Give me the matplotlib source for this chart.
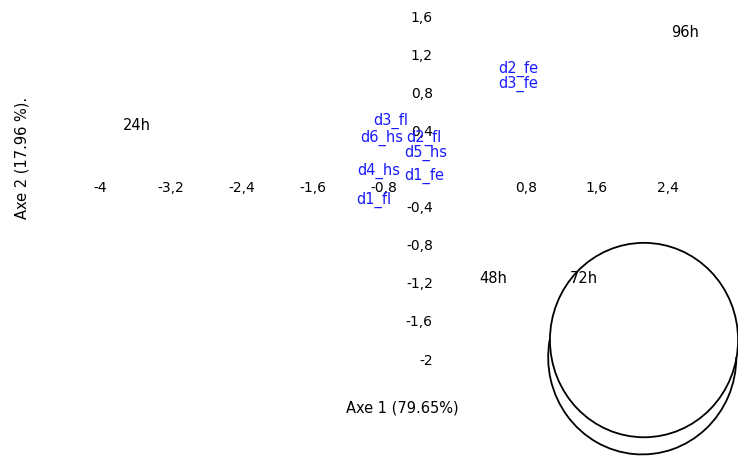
import matplotlib
matplotlib.use('Agg')
import matplotlib.pyplot as plt
import matplotlib.patches as mpatches

plt.rcParams['font.family'] = ['DejaVu Sans']

# sample scores on the first two axes
samples = ['d2_fe', 'd3_fe', 'd3_fl', 'd6_hs', 'd2_fl', 'd5_hs', 'd4_hs', 'd1_fe', 'd1_fl']
samples_x = [0.71, 0.71, -0.72, -0.83, -0.35, -0.33, -0.86, -0.35, -0.91]
samples_y = [1.04, 0.89, 0.50, 0.32, 0.32, 0.16, -0.02, -0.08, -0.33]

# time points
times = ['96h', '24h', '48h', '72h']
times_x = [2.59, -3.58, 0.43, 1.45]
times_y = [1.43, 0.45, -1.15, -1.15]

xticks = [-4, -3.2, -2.4, -1.6, -0.8, 0.8, 1.6, 2.4]
yticks = [-2, -1.6, -1.2, -0.8, -0.4, 0.4, 0.8, 1.2, 1.6]

xlab = 'Axe 1 (79.65%)'
ylab = 'Axe 2 (17.96 %).'


def comma(v):
    return ('%g' % v).replace('.', ',')


fig = plt.figure(figsize=(7.38, 4.57), dpi=100)
ax = fig.add_axes([0, 0, 1, 1])
ax.set_xlim(-5.127, 3.189)
ax.set_ylim(-3.027, 1.768)

# axes through the origin, with only the labels shown
ax.spines['left'].set_position(('data', 0))
ax.spines['bottom'].set_position(('data', 0))
for s in ax.spines.values():
    s.set_visible(False)
ax.set_xticks(xticks)
ax.set_xticklabels([comma(v) for v in xticks])
ax.set_yticks(yticks)
ax.set_yticklabels([comma(v) for v in yticks])
ax.tick_params(axis='x', length=0, pad=9, labelsize=10)
ax.tick_params(axis='y', length=0, pad=16, labelsize=10)

for name, x, y in zip(times, times_x, times_y):
    ax.text(x, y, name, ha='center', va='center', fontsize=10.5, color='black')
for name, x, y in zip(samples, samples_x, samples_y):
    ax.text(x, y, name, ha='center', va='center', fontsize=10.5, color='#1a1aff')

# circle and its lower rim
ax.add_patch(mpatches.Ellipse((2.13, -1.80), 2 * 1.06, 2 * 1.02,
                              fill=False, edgecolor='black', lw=1.3))
ax.add_patch(mpatches.Arc((2.11, -1.98), 2 * 1.06, 2 * 1.02, theta1=170, theta2=360,
                          edgecolor='black', lw=1.3))

fig.text(402 / 738, 1 - 408 / 457, xlab, ha='center', va='center', fontsize=10.5)
fig.text(22 / 738, 1 - 158 / 457, ylab, ha='center', va='center', rotation=90, fontsize=10.5)

fig.savefig('out.png', dpi=100)
